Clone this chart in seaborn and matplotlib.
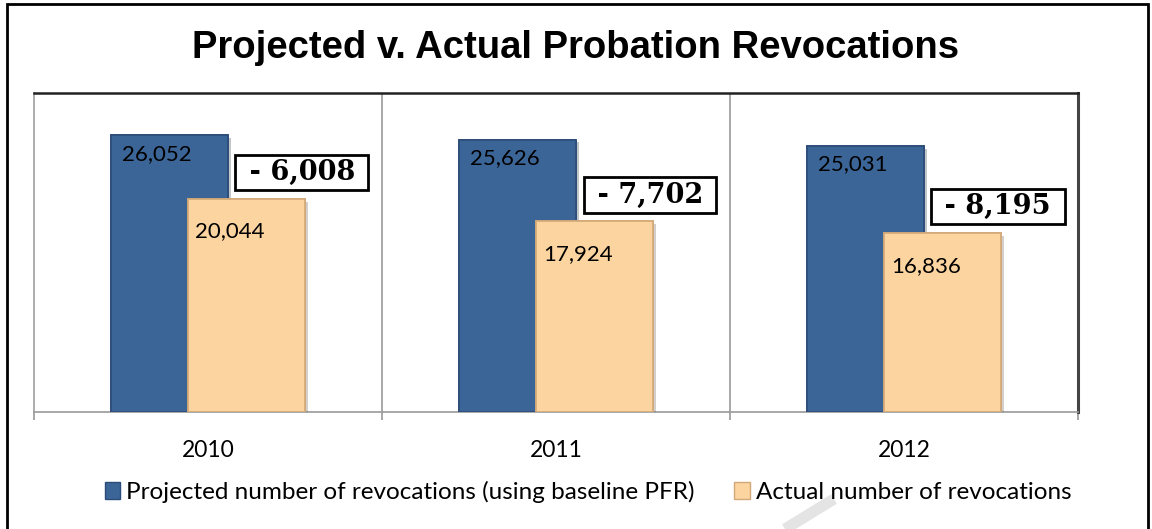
import pandas as pd
import numpy as np
import matplotlib
matplotlib.use('Agg')
import matplotlib.pyplot as plt
import matplotlib.patheffects as pe
from matplotlib.patches import Patch, Rectangle
from matplotlib.lines import Line2D
import seaborn as sns

# Данные
years = ['2010', '2011', '2012']
projected = [26052, 25626, 25031]
actual = [20044, 17924, 16836]
series_names = ['Projected number of revocations (using baseline PFR)',
                'Actual number of revocations']
title = 'Projected v. Actual Probation Revocations'

blue = '#3C6597'
orange = '#FCD4A0'

df = pd.DataFrame({
    'year': years * 2,
    'value': projected + actual,
    'series': [series_names[0]] * 3 + [series_names[1]] * 3,
})

sns.set_theme(style='white')
plt.rcParams['font.family'] = ['Lato', 'DejaVu Sans']
plt.rcParams['text.color'] = 'black'

W, H = 1152, 529
fig = plt.figure(figsize=(W / 100, H / 100), dpi=100)
ax = fig.add_axes([34 / W, 1 - 412 / H, (1078 - 34) / W, (412 - 93) / H])

sns.barplot(data=df, x='year', y='value', hue='series', palette=[blue, orange],
            width=0.44, dodge=True, saturation=1, legend=False, ax=ax)

# Перекрывающиеся столбцы как в Excel
bar_w = 0.336
edges = ['#2B4C78', '#D2A878']
for k, cont in enumerate(ax.containers):
    for bar in cont:
        c = bar.get_x() + bar.get_width() / 2
        bar.set_x(c - bar_w / 2)
        bar.set_width(bar_w)
        bar.set_edgecolor(edges[k])
        bar.set_linewidth(1.2)
        bar.set_zorder(3 + k)
        bar.set_path_effects([pe.withSimplePatchShadow(offset=(2, -2), alpha=0.25), pe.Normal()])

# Подписи значений
offsets = [(7.5, -13.5), (5.5, -23.5)]
for k, cont in enumerate(ax.containers):
    for bar in cont:
        ax.annotate(f'{int(bar.get_height()):,}', xy=(bar.get_x(), bar.get_height()),
                    xytext=offsets[k], textcoords='offset points',
                    ha='left', va='center', fontsize=16, color='black', zorder=10)

# Разница в рамке
for i, (p, a) in enumerate(zip(projected, actual)):
    ax.annotate(f' - {p - a:,} ', xy=(i + 0.27, a), xytext=(0, 19),
                textcoords='offset points', ha='center', va='center',
                fontsize=19.5, fontweight='bold', family='DejaVu Serif', zorder=10,
                bbox=dict(boxstyle='square,pad=0.15', fc='white', ec='black', lw=2))

ax.set_ylim(0, 30000)
ax.set_xlim(-0.5, 2.5)
ax.set_yticks([])
ax.set_xlabel('')
ax.set_ylabel('')
for x in [0.5, 1.5]:
    ax.axvline(x, color='#9A9A9A', lw=1.2, zorder=1)
ax.set_xticks([-0.5, 0.5, 1.5, 2.5], minor=True)
ax.tick_params(axis='x', which='minor', length=6, width=1.2, color='#9A9A9A', direction='out', bottom=True)
ax.tick_params(axis='x', which='major', length=0, pad=20, labelsize=16.5, labelcolor='black')

ax.spines['top'].set_color('#222222')
ax.spines['top'].set_linewidth(1.8)
ax.spines['left'].set_color('#A0A0A0')
ax.spines['left'].set_linewidth(1.2)
ax.spines['right'].set_color('#444444')
ax.spines['right'].set_linewidth(2.2)
ax.spines['bottom'].set_color('#9A9A9A')
ax.spines['bottom'].set_linewidth(1.2)

fig.text(0.5, 1 - 47.5 / H, title, ha='center', va='center', fontsize=27.5,
         fontweight='bold', color='black', family=['Liberation Sans', 'DejaVu Sans'])

handles = [Patch(facecolor=blue, edgecolor=edges[0]), Patch(facecolor=orange, edgecolor=edges[1])]
fig.legend(handles, series_names, loc='center', bbox_to_anchor=(588 / W, 1 - 492 / H),
           ncol=2, frameon=False, fontsize=17.5, handlelength=0.65, handleheight=0.65,
           handletextpad=0.25, columnspacing=1.6, labelcolor='black')

# Рамка вокруг рисунка и бледный штрих водяного знака
fig.add_artist(Line2D([785 / W, 834 / W], [0.0, 1 - 499 / H], transform=fig.transFigure,
                      color='#E4E4E4', lw=8, solid_capstyle='butt', zorder=0))
fig.add_artist(Rectangle((7 / W, -0.05), 1141 / W, 1.05 - 4 / H,
                         transform=fig.transFigure, fill=False, ec='black', lw=2))

fig.savefig('out.png', dpi=100)
